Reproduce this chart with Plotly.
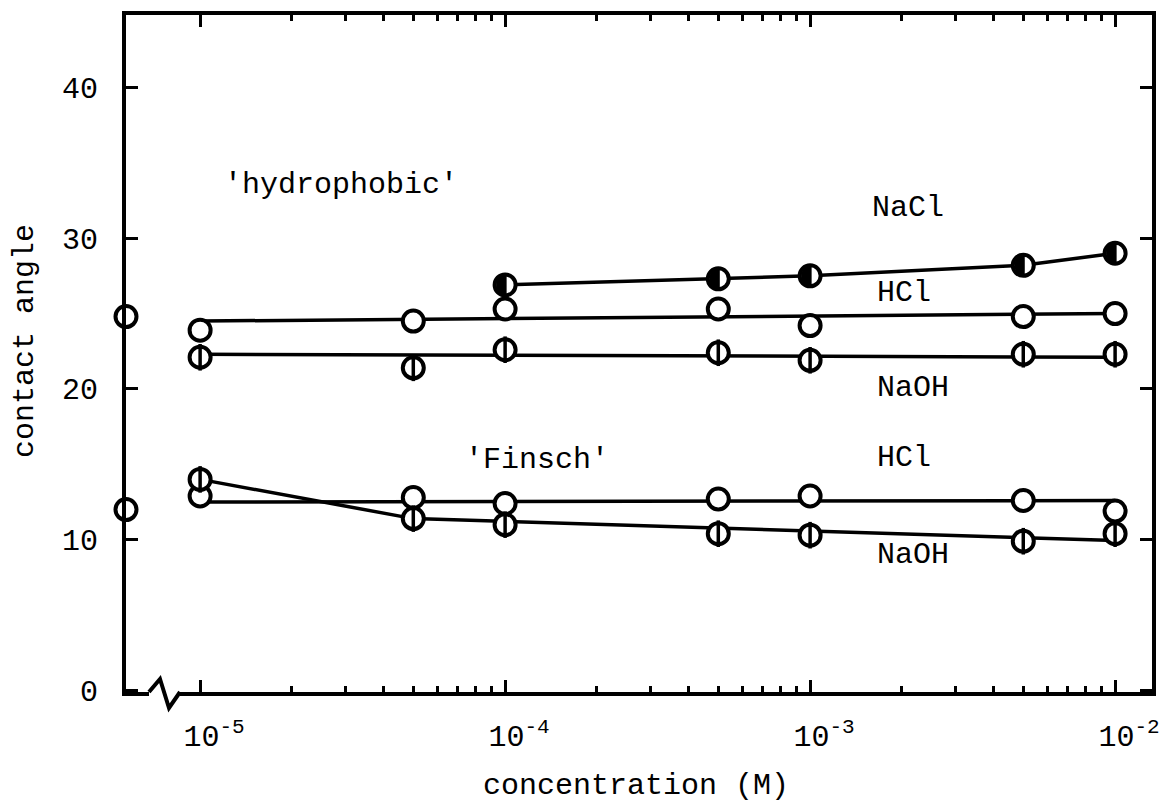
import numpy as np
import plotly.graph_objects as go

# ---------------- data ----------------
conc = [1e-5, 5e-5, 1e-4, 5e-4, 1e-3, 5e-3, 1e-2]
conc_nacl = [1e-4, 5e-4, 1e-3, 5e-3, 1e-2]

water_hydrophobic = 24.8      # no electrolyte (plotted on the axis)
water_finsch = 12.0

hyd_nacl = [26.9, 27.3, 27.5, 28.2, 29.0]
hyd_hcl = [23.9, 24.5, 25.3, 25.3, 24.2, 24.8, 25.0]
hyd_naoh = [22.1, 21.4, 22.6, 22.4, 21.9, 22.3, 22.3]
fin_hcl = [12.9, 12.8, 12.4, 12.7, 12.9, 12.6, 11.9]
fin_naoh = [14.0, 11.4, 11.0, 10.4, 10.3, 9.9, 10.4]

# hand-drawn trend lines
fit_conc = [1e-5, 1e-2]
hyd_hcl_fit = [24.5, 25.0]
hyd_naoh_fit = [22.3, 22.1]
fin_hcl_fit = [12.5, 12.6]
fin_naoh_fit_conc = [1e-5, 5e-5, 1e-2]
fin_naoh_fit = [14.0, 11.4, 9.95]

x_tickvals = [1e-5, 1e-4, 1e-3, 1e-2]
x_ticktext = ["10<sup>-5</sup>", "10<sup>-4</sup>", "10<sup>-3</sup>", "10<sup>-2</sup>"]
y_tickvals = [0, 10, 20, 30, 40]
y_ticktext = ["0", "10", "20", "30", "40"]

labels = [("'hydrophobic'", 222, 185), ("NaCl", 870, 208), ("HCl", 875, 293),
          ("NaOH", 875, 388), ("'Finsch'", 463, 460), ("HCl", 875, 458),
          ("NaOH", 875, 555)]

# ---------------- layout geometry ----------------
W, H = 1173, 807
L, R, T, B = 126, 1152, 15, 692
x_range = [-5.243, -1.879]
y_range = [-0.1, 44.8]
x_axis_origin = 10 ** x_range[0]
FONT = "Liberation Mono, Courier New, monospace"


def px(x):
    return (x - L) / (R - L)


def py(y):
    return (B - y) / (B - T)


minor_vals = [m * 10.0 ** e for e in (-5, -4, -3) for m in range(2, 10)]

fig = go.Figure()

line_style = dict(color="black", width=3.5)
# trend lines first (markers go on top)
fig.add_trace(go.Scatter(x=conc_nacl, y=hyd_nacl, mode="lines", line=line_style, hoverinfo="skip"))
fig.add_trace(go.Scatter(x=fit_conc, y=hyd_hcl_fit, mode="lines", line=line_style, hoverinfo="skip"))
fig.add_trace(go.Scatter(x=fit_conc, y=hyd_naoh_fit, mode="lines", line=line_style, hoverinfo="skip"))
fig.add_trace(go.Scatter(x=fit_conc, y=fin_hcl_fit, mode="lines", line=line_style, hoverinfo="skip"))
fig.add_trace(go.Scatter(x=fin_naoh_fit_conc, y=fin_naoh_fit, mode="lines", line=line_style, hoverinfo="skip"))

circ = dict(symbol="circle", size=21, color="white", line=dict(color="black", width=4))
bar = dict(symbol="line-ns-open", size=19, color="black", line=dict(color="black", width=3.5))

# open circles (HCl)
fig.add_trace(go.Scatter(x=conc, y=hyd_hcl, mode="markers", marker=circ, name="HCl hydrophobic"))
fig.add_trace(go.Scatter(x=conc, y=fin_hcl, mode="markers", marker=circ, name="HCl Finsch"))
# NaOH: circle with vertical bar
for ys, nm in ((hyd_naoh, "NaOH hydrophobic"), (fin_naoh, "NaOH Finsch")):
    fig.add_trace(go.Scatter(x=conc, y=ys, mode="markers", marker=circ, name=nm))
    fig.add_trace(go.Scatter(x=conc, y=ys, mode="markers", marker=bar, hoverinfo="skip"))
# NaCl: half-filled circles
fig.add_trace(go.Scatter(x=conc_nacl, y=hyd_nacl, mode="markers", marker=circ, name="NaCl"))
# water (no electrolyte) on the axis
fig.add_trace(go.Scatter(x=[x_axis_origin, x_axis_origin], y=[water_hydrophobic, water_finsch],
                         mode="markers", cliponaxis=False,
                         marker=dict(symbol="circle-open", size=21, color="black",
                                     line=dict(color="black", width=4)),
                         name="water"))

shapes = []
# half fill of NaCl markers (left part black)
r = 10.5
ang = np.linspace(np.pi / 2, 3 * np.pi / 2, 25)
pts = [(r * np.cos(a) + 1.5, r * np.sin(a)) for a in ang]
pts = [(1.5, r)] + pts + [(1.5, -r)]
half_path = "M " + " L ".join(f"{a:.2f},{b:.2f}" for a, b in pts) + " Z"
for xv, yv in zip(conc_nacl, hyd_nacl):
    shapes.append(dict(type="path", xref="x", yref="y", xsizemode="pixel", ysizemode="pixel",
                       xanchor=xv, yanchor=yv, path=half_path, fillcolor="black",
                       line=dict(width=0), layer="above"))

# axis break on the x axis
shapes.append(dict(type="rect", xref="paper", yref="paper", x0=px(149), x1=px(180),
                   y0=py(697), y1=py(687), fillcolor="white", line=dict(width=0), layer="above"))
zig = [(149, 692), (160, 679), (169, 708), (180, 692)]
shapes.append(dict(type="path", xref="paper", yref="paper",
                   path="M " + " L ".join(f"{px(a):.5f},{py(b):.5f}" for a, b in zig),
                   line=dict(color="black", width=4), layer="above"))

annotations = []
for txt, x0, y0 in labels:
    annotations.append(dict(text=txt, xref="paper", yref="paper", x=px(x0), y=py(y0),
                            xanchor="left", yanchor="middle", showarrow=False,
                            font=dict(family=FONT, size=30, color="black")))
annotations.append(dict(text="concentration (M)", xref="paper", yref="paper", x=px(636), y=py(786),
                        xanchor="center", yanchor="middle", showarrow=False,
                        font=dict(family=FONT, size=30, color="black")))
annotations.append(dict(text="contact angle", xref="paper", yref="paper", x=px(25), y=py(341),
                        xanchor="center", yanchor="middle", showarrow=False, textangle=-90,
                        font=dict(family=FONT, size=30, color="black")))

fig.update_layout(
    width=W, height=H,
    margin=dict(l=L, r=W - R, t=T, b=H - B),
    paper_bgcolor="white", plot_bgcolor="white",
    showlegend=False,
    font=dict(family=FONT, size=30, color="black"),
    shapes=shapes, annotations=annotations,
    xaxis=dict(type="log", range=x_range, showgrid=False, zeroline=False,
               showline=True, linewidth=4, linecolor="black", mirror="ticks",
               ticks="inside", ticklen=12, tickwidth=3, tickcolor="black",
               tickmode="array", tickvals=x_tickvals, ticktext=x_ticktext,
               ticklabelstandoff=14, ticklabelshift=14,
               minor=dict(ticks="inside", ticklen=6, tickwidth=2.5, tickcolor="black",
                          tickmode="array", tickvals=minor_vals)),
    yaxis=dict(range=y_range, showgrid=False, zeroline=False,
               showline=True, linewidth=4, linecolor="black", mirror="ticks",
               ticks="inside", ticklen=12, tickwidth=3, tickcolor="black",
               tickmode="array", tickvals=y_tickvals, ticktext=y_ticktext,
               ticklabelstandoff=18),
)

fig.write_html("out.html")
